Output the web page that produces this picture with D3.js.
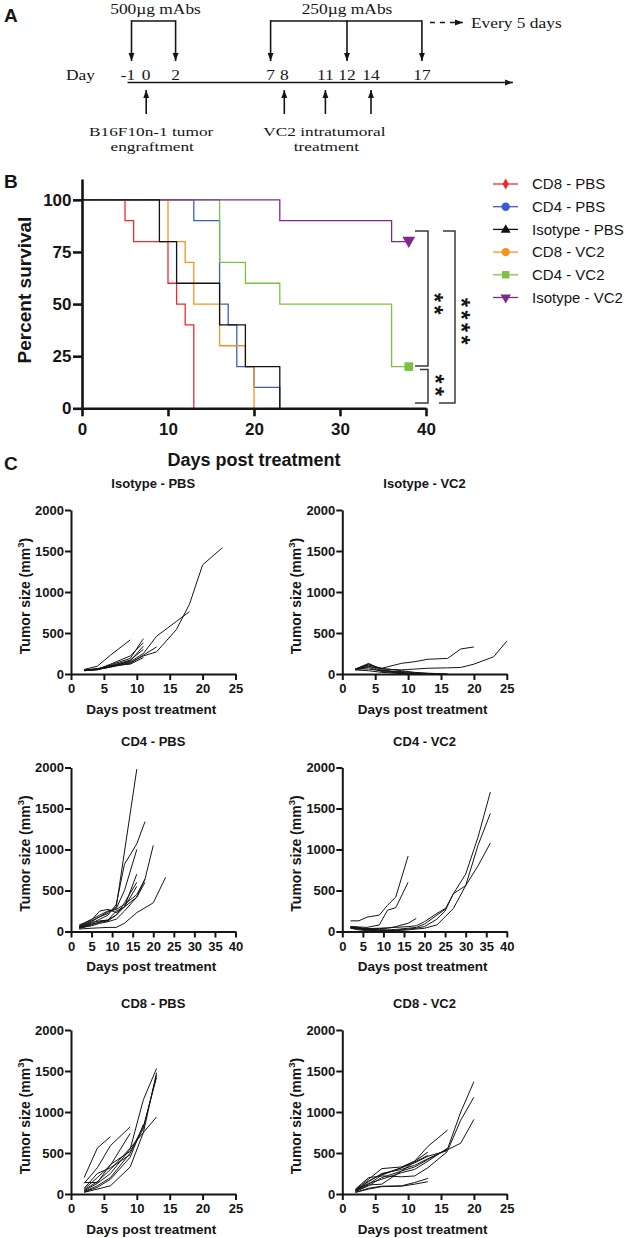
<!DOCTYPE html>
<html><head><meta charset="utf-8">
<script src="https://cdn.jsdelivr.net/npm/d3@7"></script>
<style>body{margin:0;background:#fff}svg{display:block}</style>
</head><body><svg id="fig" width="625" height="1238"></svg>
<script>
// ---------- Panel A (schedule) ----------
const scheduleDays = [-1, 0, 2, 7, 8, 11, 12, 14, 17];
const mAb500Days = [-1, 2];
const mAb250Days = [7, 12, 17];
const engraftDays = [0];
const vc2Days = [8, 11, 14];

// ---------- Panel B (survival) ----------
const survNames = ["CD8 - PBS", "CD4 - PBS", "Isotype - PBS", "CD8 - VC2", "CD4 - VC2", "Isotype - VC2"];
const survColors = ["#ee2a2e", "#3d5ccc", "#111111", "#f7941d", "#7cc242", "#7d2a8a"];
const survCD8PBS = [[0,100],[5,90],[6,80],[10,60],[11,50],[12,40],[13,0]];
const survCD4PBS = [[0,100],[13,90],[16,50],[17,40],[18,20],[20,10],[23,0]];
const survIsoPBS = [[0,100],[9,80],[11,60],[16,40],[19,20],[23,0]];
const survCD8VC2 = [[0,100],[10,80],[12,70],[13,50],[16,30],[19,20],[20,0]];
const survCD4VC2 = [[0,100],[16,70],[19,60],[23,50],[36,20],[38,20]];
const survIsoVC2 = [[0,100],[23,90],[36,80],[38,80]];
const survTicksX = [0, 10, 20, 30, 40];
const survTicksY = [0, 25, 50, 75, 100];
const sigLabels = ["**", "**", "****"];

// ---------- Panel C (tumor growth) ----------
const tumorTicksY = [0, 500, 1000, 1500, 2000];
const ticks25 = [0, 5, 10, 15, 20, 25];
const ticks40 = [0, 5, 10, 15, 20, 25, 30, 35, 40];
const isoPBS = [
 [[2,55],[4,95],[6,230],[9,415]],
 [[2,50],[4,60],[6,110],[9,190],[11,430]],
 [[2,45],[4,55],[6,120],[9,220],[11,380]],
 [[2,40],[4,50],[6,90],[9,160],[11,340]],
 [[2,50],[4,65],[6,100],[9,170],[11,300]],
 [[2,45],[4,55],[6,85],[9,130],[11,230],[13,330]],
 [[2,40],[4,55],[6,85],[9,140],[11,220],[13,270],[16,540],[18,850],[20,1330],[23,1540]],
 [[2,45],[4,60],[6,95],[9,150],[11,250],[13,460],[16,640],[18,760]],
 [[2,50],[4,60],[6,100],[9,120],[11,200]]
];
const isoVC2 = [
 [[2,60],[4,90],[6,70],[9,130],[11,150],[13,180],[16,190],[18,305],[20,330]],
 [[2,60],[4,120],[6,60],[9,50],[11,60],[13,70],[16,75],[18,80],[20,120],[23,210],[25,400]],
 [[2,60],[4,130],[6,50],[9,15],[11,0]],
 [[2,55],[4,100],[6,40],[9,20],[11,5],[13,0]],
 [[2,50],[4,80],[6,30],[9,10],[13,0]],
 [[2,65],[4,60],[6,40],[9,30],[11,15],[13,5],[16,0]],
 [[2,50],[4,40],[6,20],[9,5],[11,0]],
 [[2,60],[4,110],[6,70],[9,40],[11,20],[13,10],[16,0]]
];
const cd4PBS = [
 [[2,60],[5,120],[7,180],[9,220],[11,300],[16,1980]],
 [[2,50],[5,100],[7,150],[9,200],[11,330],[13,820],[16,1070],[18,1340]],
 [[2,70],[5,150],[7,200],[9,250],[11,280],[13,500],[16,1000]],
 [[2,40],[5,80],[7,120],[9,140],[11,200],[13,300],[16,420],[18,640],[20,1050]],
 [[2,30],[5,40],[7,45],[9,50],[11,50],[13,100],[16,230],[20,350],[23,660]],
 [[2,50],[5,110],[7,130],[9,140],[11,250],[13,300],[16,700]],
 [[2,45],[5,90],[7,110],[9,130],[11,200],[13,350],[16,600]],
 [[2,60],[5,130],[7,180],[9,240],[11,270],[13,330],[16,450],[18,640]],
 [[2,80],[5,140],[7,250],[9,270],[11,230],[13,300],[16,550]],
 [[2,40],[5,70],[7,100],[9,120],[11,150],[13,250],[16,420],[18,600]]
];
const cd4VC2 = [
 [[2,130],[4,130],[6,175],[9,200],[11,320],[13,420],[16,920]],
 [[2,60],[4,55],[6,50],[9,80],[11,260],[13,290],[16,600]],
 [[2,50],[4,40],[6,30],[9,35],[11,40],[13,60],[16,100],[18,160]],
 [[2,40],[4,30],[6,20],[9,15],[11,10],[13,15],[16,30],[18,40],[20,60],[23,150],[25,250],[27,460],[30,700],[33,1150],[36,1700]],
 [[2,45],[4,35],[6,25],[9,20],[11,15],[13,10],[16,20],[18,30],[20,40],[23,80],[25,180],[27,280],[30,560],[33,1050],[36,1440]],
 [[2,50],[4,40],[6,30],[9,20],[11,20],[13,25],[16,40],[18,50],[20,90],[23,200],[25,270],[27,460],[30,560],[33,800],[36,1080]],
 [[2,60],[4,50],[6,20],[9,5],[11,0]],
 [[2,40],[4,20],[6,10],[9,0]],
 [[2,55],[4,45],[6,35],[9,40],[11,45],[13,50],[16,60],[18,70],[20,120],[23,220],[25,280]]
];
const cd8PBS = [
 [[2,200],[4,560],[6,700]],
 [[2,130],[4,320],[6,590],[9,820]],
 [[2,60],[4,200],[6,350],[9,740]],
 [[2,40],[4,130],[6,250],[9,550],[11,1150],[13,1530]],
 [[2,30],[4,100],[6,200],[9,500],[11,800],[13,1450]],
 [[2,50],[4,150],[6,300],[9,560],[11,750],[13,940]],
 [[2,20],[4,60],[6,100],[9,330],[11,750],[13,1480]],
 [[2,140],[4,140],[6,360],[9,520],[11,820],[13,1420]],
 [[2,25],[4,80],[6,180],[9,450],[11,850]],
 [[2,70],[4,250],[6,320],[9,480]]
];
const cd8VC2 = [
 [[2,50],[4,150],[6,250],[9,300],[11,350],[13,430],[16,540],[18,620],[20,910]],
 [[2,30],[4,100],[6,200],[9,280],[11,330],[13,420],[16,550],[18,1000],[20,1370]],
 [[2,40],[4,120],[6,230],[9,320],[11,380],[13,460],[16,530],[18,900],[20,1180]],
 [[2,50],[4,180],[6,310],[9,330],[11,400],[13,580],[16,780]],
 [[2,40],[4,160],[6,240],[9,320],[11,400],[13,510]],
 [[2,20],[4,70],[6,95],[9,100],[11,140],[13,190]],
 [[2,20],[4,60],[6,90],[9,95],[11,120],[13,150]],
 [[2,60],[4,200],[6,220],[9,210],[11,220],[13,320],[16,520]],
 [[2,45],[4,130],[6,180],[9,260],[11,300],[13,400],[16,560]],
 [[2,35],[4,110],[6,120],[9,280],[11,390],[13,470]]
];

const SANS = "'Liberation Sans', Arial, Helvetica, sans-serif";
const SERIF = "'Liberation Serif', 'Times New Roman', serif";
const INK = "#151515";

const svg = d3.select('#fig');
svg.append('rect').attr('width', 625).attr('height', 1238).attr('fill', '#fff');
const defs = svg.append('defs');
defs.append('marker').attr('id', 'ah').attr('viewBox', '0 0 10 10')
  .attr('refX', 10).attr('refY', 5).attr('markerWidth', 8).attr('markerHeight', 8)
  .attr('markerUnits', 'userSpaceOnUse').attr('orient', 'auto')
  .append('path').attr('d', 'M0,1.3L10,5L0,8.7Z').attr('fill', INK);

function label(g, txt, x, y, size, weight, anchor, family) {
  return g.append('text').text(txt).attr('x', x).attr('y', y)
    .attr('font-family', family || SANS).attr('font-size', size)
    .attr('font-weight', weight || 'normal').attr('text-anchor', anchor || 'start').attr('fill', INK);
}
const SX = 1.2, SERIF_SIZE = 14.5;
function sLabel(g, txt, x, y, anchor, size, sx) {
  return g.append('text').text(txt).attr('transform', `translate(${x},${y}) scale(${sx || SX},1)`)
    .attr('font-family', SERIF).attr('font-size', size || SERIF_SIZE)
    .attr('text-anchor', anchor || 'middle').attr('fill', INK);
}

// ===== Panel A =====
const gA = svg.append('g');
label(gA, 'A', 4, 22, 19, 'bold');
const dayX = d3.scaleLinear().domain([-1, 2, 7, 11, 12, 14, 17])
  .range([131.5, 175.6, 270.6, 325.4, 347, 371, 421.9]);
const yBr = 21, yArrowTip = 61, yAxisA = 82.5;
function bracket(days) {
  gA.append('line').attr('x1', dayX(days[0])).attr('x2', dayX(days[days.length - 1]))
    .attr('y1', yBr).attr('y2', yBr).attr('stroke', INK).attr('stroke-width', 1.6);
  gA.selectAll(null).data(days).join('line')
    .attr('x1', d => dayX(d)).attr('x2', d => dayX(d)).attr('y1', yBr - 0.8).attr('y2', yArrowTip)
    .attr('stroke', INK).attr('stroke-width', 1.6).attr('marker-end', 'url(#ah)');
}
bracket(mAb500Days);
bracket(mAb250Days);
sLabel(gA, '500µg mAbs', (dayX(-1) + dayX(2)) / 2 + 2, 14);
sLabel(gA, '250µg mAbs', dayX(12), 14);
gA.append('line').attr('x1', dayX(17) + 8).attr('x2', dayX(17) + 41).attr('y1', 22.5).attr('y2', 22.5)
  .attr('stroke', INK).attr('stroke-width', 1.6).attr('stroke-dasharray', '5,5').attr('marker-end', 'url(#ah)');
sLabel(gA, 'Every 5 days', dayX(17) + 49, 28, 'start');
sLabel(gA, 'Day', 66, 80, 'start');
gA.selectAll(null).data(scheduleDays).join('text').text(d => d)
  .attr('transform', d => `translate(${dayX(d) + (d === -1 ? -3.5 : 0)},80) scale(${SX},1)`)
  .attr('text-anchor', 'middle')
  .attr('font-family', SERIF).attr('font-size', SERIF_SIZE).attr('fill', INK);
gA.append('line').attr('x1', dayX(-1) - 4).attr('x2', 513).attr('y1', yAxisA).attr('y2', yAxisA)
  .attr('stroke', INK).attr('stroke-width', 1.6).attr('marker-end', 'url(#ah)');
gA.selectAll(null).data(engraftDays.concat(vc2Days)).join('line')
  .attr('x1', d => dayX(d)).attr('x2', d => dayX(d)).attr('y1', 114).attr('y2', 90)
  .attr('stroke', INK).attr('stroke-width', 1.6).attr('marker-end', 'url(#ah)');
const LAB_FS = 13.3, LAB_SX = 1.3;
sLabel(gA, 'B16F10n-1 tumor', dayX(0) + 5, 135.5, 'middle', LAB_FS, LAB_SX);
sLabel(gA, 'engraftment', dayX(0) + 6, 150.5, 'middle', LAB_FS, LAB_SX);
sLabel(gA, 'VC2 intratumoral', dayX(11) - 1, 135.5, 'middle', LAB_FS, LAB_SX);
sLabel(gA, 'treatment', dayX(11) + 1, 150.5, 'middle', LAB_FS, LAB_SX);

// ===== Panel B =====
const gB = svg.append('g');
label(gB, 'B', 4, 188, 19, 'bold');
const xS = d3.scaleLinear().domain([0, 40]).range([82, 426]);
const yS = d3.scaleLinear().domain([0, 110]).range([408.3, 179]);
const survSeries = [survCD8PBS, survCD4PBS, survIsoPBS, survCD8VC2, survCD4VC2, survIsoVC2];
const stepLine = d3.line().x(d => xS(d[0])).y(d => yS(d[1])).curve(d3.curveStepAfter);
const drawOrder = [0, 1, 3, 4, 5, 2];
drawOrder.forEach(i => {
  gB.append('path').attr('d', stepLine(survSeries[i])).attr('fill', 'none')
    .attr('stroke', survColors[i]).attr('stroke-width', 1.3);
});
const symTypes = [d3.symbolDiamond, d3.symbolCircle, d3.symbolTriangle, d3.symbolCircle, d3.symbolSquare, d3.symbolTriangle];
const symSizes = [34, 55, 42, 55, 55, 48];
const symRot = [0, 0, 0, 0, 0, 180];
[4, 5].forEach(i => {
  const last = survSeries[i][survSeries[i].length - 1];
  gB.append('path').attr('d', d3.symbol().type(symTypes[i]).size(i === 4 ? 75 : 70)())
    .attr('transform', `translate(${xS(last[0])},${yS(last[1]) + (i === 5 ? -1 : 0)}) rotate(${symRot[i]})`)
    .attr('fill', survColors[i]);
});
const axB = gB.append('g').attr('transform', `translate(0,${yS(0)})`)
  .call(d3.axisBottom(xS).tickValues(survTicksX).tickSize(8).tickSizeOuter(0).tickPadding(6.5));
const ayB = gB.append('g').attr('transform', `translate(${xS(0)},0)`)
  .call(d3.axisLeft(yS).tickValues(survTicksY).tickSize(9).tickSizeOuter(0).tickPadding(1.5));
[axB, ayB].forEach(a => {
  a.select('.domain').attr('stroke', INK).attr('stroke-width', 2.6);
  a.selectAll('.tick line').attr('stroke', INK).attr('stroke-width', 2.6);
  a.selectAll('.tick text').attr('fill', INK).attr('font-family', SANS).attr('font-size', 17).attr('font-weight', 'bold');
});
label(gB, 'Days post treatment', 254, 466, 18, 'bold', 'middle');
gB.append('text').text('Percent survival').attr('transform', 'translate(30.5,290) rotate(-90)')
  .attr('text-anchor', 'middle').attr('font-family', SANS).attr('font-size', 19).attr('font-weight', 'bold').attr('fill', INK);
survNames.forEach((n, i) => {
  const yy = 184 + i * 22.7;
  gB.append('line').attr('x1', 493).attr('x2', 518).attr('y1', yy).attr('y2', yy)
    .attr('stroke', survColors[i]).attr('stroke-width', 1.3);
  gB.append('path').attr('d', d3.symbol().type(symTypes[i]).size(symSizes[i])())
    .attr('transform', `translate(505.7,${yy + (i === 2 ? 0.5 : 0)}) rotate(${symRot[i]})`).attr('fill', survColors[i]);
  label(gB, n, 532, yy + 5.3, 15, 'normal', 'start');
});
const BR = '#3a3a3a';
function sigBracket(x, y1, y2, xl1, xl2) {
  gB.append('path').attr('d', `M${xl1},${y1}H${x}V${y2}H${xl2}`)
    .attr('fill', 'none').attr('stroke', BR).attr('stroke-width', 1.5);
}
sigBracket(428, 231, 366, 415, 415);
sigBracket(428, 369.5, 403, 420, 415);
sigBracket(455, 231, 403, 443, 439);
const STAR_FS = 23, STAR_STEP = 12.5;
function stars(x, yFirst, str) {
  const adv = 0.389 * STAR_FS;
  const glyphUp = 0.57 * STAR_FS;
  gB.append('text').text(str)
    .attr('transform', `translate(${x - glyphUp},${yFirst - adv / 2}) rotate(90)`)
    .attr('letter-spacing', STAR_STEP - adv)
    .attr('font-family', SANS).attr('font-size', STAR_FS).attr('font-weight', 'bold').attr('fill', INK);
}
stars(439.5, 297.5, sigLabels[0]);
stars(440, 379, sigLabels[1]);
stars(466.5, 302.5, sigLabels[2]);

// ===== Panel C =====
const gC = svg.append('g');
label(gC, 'C', 4, 470, 19, 'bold');
const colX = [71, 342.3];
const rowY = [510, 767.5, 1030];
function smallPanel(col, row, title, mice, xTicks) {
  const x0 = colX[col], yTop = rowY[row], w = 164.5, h = 164;
  const xMax = xTicks[xTicks.length - 1];
  const x = d3.scaleLinear().domain([0, xMax]).range([x0, x0 + w]);
  const y = d3.scaleLinear().domain([0, 2000]).range([yTop + h, yTop]);
  const g = gC.append('g');
  const line = d3.line().x(d => x(d[0])).y(d => y(d[1]));
  g.selectAll(null).data(mice).join('path').attr('d', line)
    .attr('fill', 'none').attr('stroke', INK).attr('stroke-width', 1).attr('stroke-linejoin', 'round');
  const ax = g.append('g').attr('transform', `translate(0,${y(0)})`)
    .call(d3.axisBottom(x).tickValues(xTicks).tickFormat(d3.format('d')).tickSize(6).tickSizeOuter(0).tickPadding(4));
  const ay = g.append('g').attr('transform', `translate(${x0},0)`)
    .call(d3.axisLeft(y).tickValues(tumorTicksY).tickFormat(d3.format('d')).tickSize(6).tickSizeOuter(0).tickPadding(1));
  [ax, ay].forEach(a => {
    a.select('.domain').attr('stroke', INK).attr('stroke-width', 2);
    a.selectAll('.tick line').attr('stroke', INK).attr('stroke-width', 2);
    a.selectAll('.tick text').attr('fill', INK).attr('font-family', SANS).attr('font-size', 13).attr('font-weight', 'bold');
  });
  label(g, title, x0 + w / 2, yTop - 22, 13, 'bold', 'middle');
  label(g, 'Days post treatment', x0 + w / 2 - 2, yTop + h + 39.5, 13.5, 'bold', 'middle');
  const yl = g.append('text').attr('transform', `translate(${x0 - 41.5},${yTop + h / 2 + 4}) rotate(-90)`)
    .attr('text-anchor', 'middle').attr('font-family', SANS).attr('font-size', 14).attr('font-weight', 'bold').attr('fill', INK);
  yl.append('tspan').text('Tumor size (mm');
  yl.append('tspan').text('3').attr('font-size', 9.5).attr('dy', -6);
  yl.append('tspan').text(')').attr('dy', 6);
}
smallPanel(0, 0, 'Isotype - PBS', isoPBS, ticks25);
smallPanel(1, 0, 'Isotype - VC2', isoVC2, ticks25);
smallPanel(0, 1, 'CD4 - PBS', cd4PBS, ticks40);
smallPanel(1, 1, 'CD4 - VC2', cd4VC2, ticks40);
smallPanel(0, 2, 'CD8 - PBS', cd8PBS, ticks25);
smallPanel(1, 2, 'CD8 - VC2', cd8VC2, ticks25);
</script></body></html>
